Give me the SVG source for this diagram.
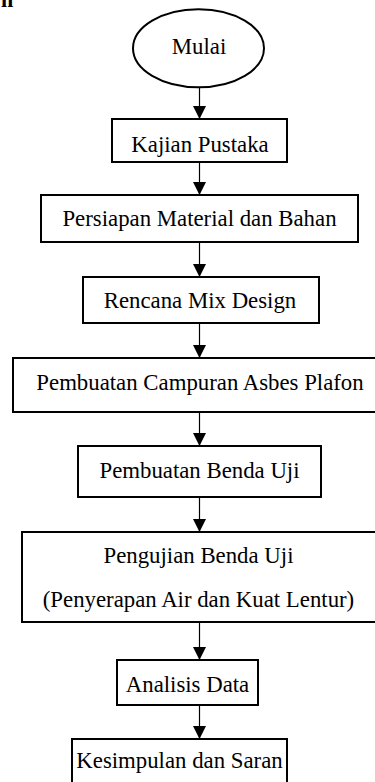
<svg xmlns="http://www.w3.org/2000/svg" width="375" height="782" viewBox="0 0 375 782">
<style>
.box{fill:#fff;stroke:#000;stroke-width:2}
.lbl{font-family:"Liberation Serif","Times New Roman",serif;font-size:22.8px;fill:#000;text-anchor:middle}
.con{stroke:#000;stroke-width:1.2;fill:none;marker-end:url(#ah)}
</style>
<defs>
<marker id="ah" markerUnits="userSpaceOnUse" markerWidth="14" markerHeight="14" refX="13" refY="6.5" orient="auto">
<path d="M0,0 L13,6.5 L0,13 Z" fill="#000"/>
</marker>
</defs>
<rect width="375" height="782" fill="#fff"/>
<text x="1" y="7" style="font-family:'Liberation Serif',serif;font-size:22px;font-weight:bold">n</text>
<g id="connectors">
<line class="con" x1="199.5" y1="87" x2="199.5" y2="119"/>
<line class="con" x1="199.5" y1="162" x2="199.5" y2="195"/>
<line class="con" x1="199.5" y1="242" x2="199.5" y2="277"/>
<line class="con" x1="199.5" y1="323" x2="199.5" y2="358"/>
<line class="con" x1="199.5" y1="412" x2="199.5" y2="446"/>
<line class="con" x1="199.5" y1="497" x2="199.5" y2="532"/>
<line class="con" x1="199.5" y1="622" x2="199.5" y2="660"/>
<line class="con" x1="199.5" y1="705" x2="199.5" y2="739"/>
</g>
<g id="mulai">
<ellipse class="box" cx="198.5" cy="48.3" rx="65.5" ry="39"/>
<text class="lbl" x="199" y="54">Mulai</text>
</g>
<g id="kajian">
<rect class="box" x="112" y="119" width="175" height="43"/>
<text class="lbl" x="200" y="152">Kajian Pustaka</text>
</g>
<g id="persiapan">
<rect class="box" x="41" y="195" width="317" height="47"/>
<text class="lbl" x="199.5" y="226">Persiapan Material dan Bahan</text>
</g>
<g id="rencana">
<rect class="box" x="83" y="277" width="236" height="46"/>
<text class="lbl" x="200" y="308">Rencana Mix Design</text>
</g>
<g id="campuran">
<rect class="box" x="13" y="358" width="372" height="54"/>
<text class="lbl" x="200" y="390">Pembuatan Campuran Asbes Plafon</text>
</g>
<g id="bendauji">
<rect class="box" x="78" y="446" width="243" height="51"/>
<text class="lbl" x="199.5" y="478">Pembuatan Benda Uji</text>
</g>
<g id="pengujian">
<rect class="box" x="22" y="532" width="365" height="90"/>
<text class="lbl" x="198.5" y="563">Pengujian Benda Uji</text>
<text class="lbl" x="198.5" y="607">(Penyerapan Air dan Kuat Lentur)</text>
</g>
<g id="analisis">
<rect class="box" x="117" y="660" width="141" height="45"/>
<text class="lbl" x="187.5" y="692">Analisis Data</text>
</g>
<g id="kesimpulan">
<rect class="box" x="72" y="739" width="215" height="60"/>
<text class="lbl" x="179.5" y="768">Kesimpulan dan Saran</text>
</g>
</svg>
